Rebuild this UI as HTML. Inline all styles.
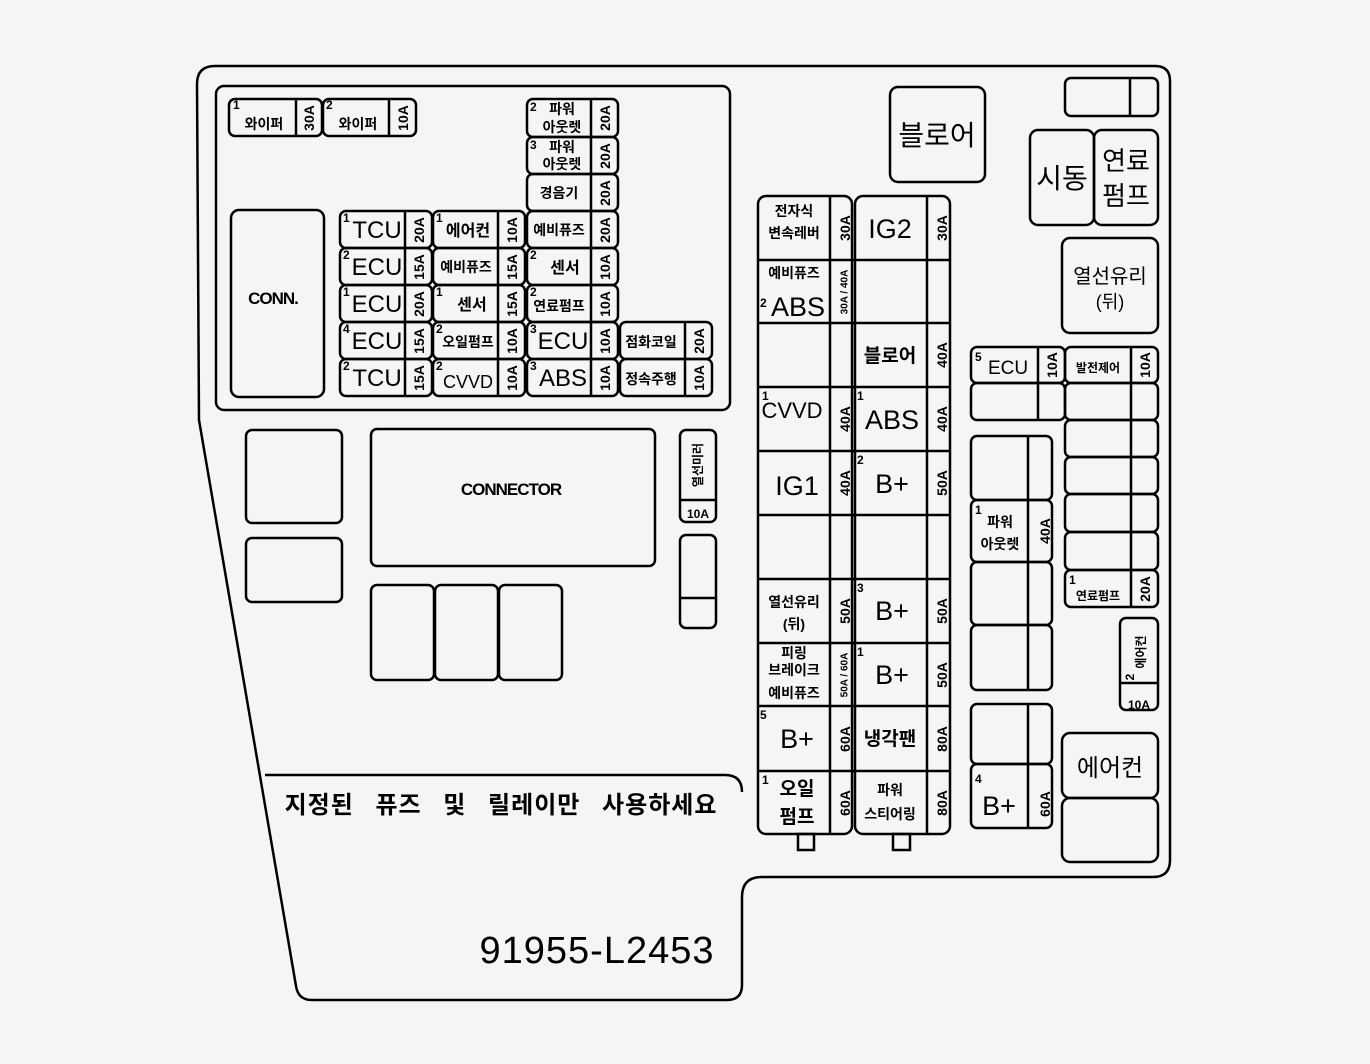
<!DOCTYPE html>
<html><head><meta charset="utf-8"><style>
html,body{margin:0;padding:0;background:#f4f5f4;}
svg{display:block}
text{font-family:"Liberation Sans","Noto Sans CJK KR",sans-serif;fill:#000;}
.k{font-size:14px;font-weight:bold;}
.kb{font-size:16px;font-weight:bold;}
.L{font-size:24px;}
.s{font-size:12px;font-weight:bold;}
.r{font-size:14px;font-weight:bold;}
.rs{font-size:10px;font-weight:bold;}
</style></head><body>
<svg width="1370" height="1064" viewBox="0 0 1370 1064" xmlns="http://www.w3.org/2000/svg">
<g fill="none" stroke="#000" stroke-width="2.5">
<path d="M197,84 Q197,66 215,66 L1155,66 Q1170,66 1170,81 L1170,860 Q1170,877 1153,877 L762,877 Q742,877 742,897 L742,985 Q742,1000 727,1000 L312,1000 Q298,1000 296,986 L199,420 Z"/>
<path d="M265,775 L725,775 Q742,775 742,792"/>
<rect x="216" y="86" width="514" height="324" rx="8"/>
<rect x="231" y="210" width="93" height="187" rx="8"/>
<rect x="246" y="430" width="96" height="93" rx="6"/>
<rect x="246" y="538" width="96" height="64" rx="6"/>
<rect x="371" y="429" width="284" height="137" rx="6"/>
<rect x="371" y="585" width="63" height="95" rx="6"/>
<rect x="435" y="585" width="63" height="95" rx="6"/>
<rect x="499" y="585" width="63" height="95" rx="6"/>
<rect x="680" y="430" width="36" height="92" rx="6"/><line x1="680" y1="500" x2="716" y2="500"/>
<rect x="680" y="535" width="36" height="93" rx="6"/><line x1="680" y1="598" x2="716" y2="598"/>
<rect x="890" y="87" width="95" height="95" rx="8"/>
<rect x="1065" y="78" width="93" height="38" rx="6"/><line x1="1130" y1="78" x2="1130" y2="116"/>
<rect x="1030" y="130" width="64" height="95" rx="8"/>
<rect x="1094" y="130" width="64" height="95" rx="8"/>
<rect x="1062" y="238" width="96" height="95" rx="8"/>
<rect x="229" y="99" width="93" height="37" rx="6"/><line x1="296" y1="99" x2="296" y2="136"/>
<rect x="323" y="99" width="93" height="37" rx="6"/><line x1="389" y1="99" x2="389" y2="136"/>
<rect x="527" y="99" width="91" height="38" rx="6"/>
<rect x="527" y="137" width="91" height="37" rx="6"/>
<rect x="527" y="174" width="91" height="37" rx="6"/>
<rect x="527" y="211" width="91" height="37" rx="6"/>
<rect x="527" y="248" width="91" height="37" rx="6"/>
<rect x="527" y="285" width="91" height="37" rx="6"/>
<rect x="527" y="322" width="91" height="37" rx="6"/>
<rect x="527" y="359" width="91" height="37" rx="6"/>
<line x1="591" y1="99" x2="591" y2="396"/>
<rect x="340" y="211" width="92" height="37" rx="6"/>
<rect x="340" y="248" width="92" height="37" rx="6"/>
<rect x="340" y="285" width="92" height="37" rx="6"/>
<rect x="340" y="322" width="92" height="37" rx="6"/>
<rect x="340" y="359" width="92" height="37" rx="6"/>
<line x1="405" y1="211" x2="405" y2="396"/>
<rect x="433" y="211" width="92" height="37" rx="6"/>
<rect x="433" y="248" width="92" height="37" rx="6"/>
<rect x="433" y="285" width="92" height="37" rx="6"/>
<rect x="433" y="322" width="92" height="37" rx="6"/>
<rect x="433" y="359" width="92" height="37" rx="6"/>
<line x1="498" y1="211" x2="498" y2="396"/>
<rect x="620" y="322" width="92" height="37" rx="6"/>
<rect x="620" y="359" width="92" height="37" rx="6"/>
<line x1="685" y1="322" x2="685" y2="396"/>
<rect x="758" y="196" width="94" height="638" rx="8"/>
<rect x="855" y="196" width="95" height="638" rx="8"/>
<line x1="830" y1="196" x2="830" y2="834"/><line x1="927" y1="196" x2="927" y2="834"/>
<path d="M758,260H950M758,323H950M758,387H950M758,451H950M758,515H950M758,579H950M758,643H950M758,706H950M758,771H950"/>
<rect x="798" y="834" width="16" height="16"/><rect x="893" y="834" width="17" height="16"/>
<rect x="971" y="347" width="94" height="36" rx="6"/><rect x="971" y="383" width="94" height="37" rx="6"/>
<line x1="1038" y1="347" x2="1038" y2="420"/>
<rect x="1065" y="347" width="93" height="36" rx="6"/>
<rect x="1065" y="383" width="93" height="37" rx="6"/>
<rect x="1065" y="420" width="93" height="37" rx="6"/>
<rect x="1065" y="457" width="93" height="37" rx="6"/>
<rect x="1065" y="494" width="93" height="38" rx="6"/>
<rect x="1065" y="532" width="93" height="38" rx="6"/>
<rect x="1065" y="570" width="93" height="37" rx="6"/>
<line x1="1131" y1="347" x2="1131" y2="607"/>
<rect x="971" y="436" width="81" height="64" rx="6"/>
<rect x="971" y="500" width="81" height="62" rx="6"/>
<rect x="971" y="562" width="81" height="63" rx="6"/>
<rect x="971" y="625" width="81" height="65" rx="6"/>
<line x1="1028" y1="436" x2="1028" y2="690"/>
<rect x="971" y="704" width="81" height="60" rx="6"/>
<rect x="971" y="764" width="81" height="64" rx="6"/>
<line x1="1028" y1="704" x2="1028" y2="828"/>
<rect x="1120" y="618" width="38" height="92" rx="6"/><line x1="1120" y1="683" x2="1158" y2="683"/>
<rect x="1062" y="733" width="96" height="65" rx="8"/>
<rect x="1062" y="798" width="96" height="64" rx="8"/>
</g>

<g class="k" text-anchor="middle">
<text x="264" y="129">와이퍼</text><text x="358" y="129">와이퍼</text>
<text x="562" y="114">파워</text><text x="562" y="132">아웃렛</text>
<text x="562" y="152">파워</text><text x="562" y="169">아웃렛</text>
<text x="559" y="198">경음기</text>
<text x="559" y="235">예비퓨즈</text>
<text x="466" y="272">예비퓨즈</text>
<text x="559" y="311">연료펌프</text>
<text x="468" y="347">오일펌프</text>
<text x="651" y="347">점화코일</text>
<text x="651" y="384">정속주행</text>
</g>
<g class="kb" text-anchor="middle">
<text x="468" y="236">에어컨</text>
<text x="565" y="273">센서</text>
<text x="472" y="310">센서</text>
</g>
<g class="s">
<text x="233" y="109">1</text><text x="326" y="109">2</text>
<text x="530" y="111">2</text><text x="530" y="149">3</text>
<text x="343" y="222">1</text><text x="343" y="259">2</text><text x="343" y="296">1</text><text x="343" y="333">4</text><text x="343" y="370">2</text>
<text x="436" y="222">1</text><text x="436" y="296">1</text><text x="436" y="333">2</text><text x="436" y="370">2</text>
<text x="530" y="259">2</text><text x="530" y="296">2</text><text x="530" y="333">3</text><text x="530" y="370">3</text>
</g>
<g class="L" text-anchor="middle">
<text x="377" y="238">TCU</text><text x="377" y="275">ECU</text><text x="377" y="312">ECU</text><text x="377" y="349">ECU</text><text x="377" y="386">TCU</text>
<text x="563" y="349">ECU</text><text x="563" y="386">ABS</text>
</g>
<text x="468" y="388" text-anchor="middle" style="font-size:18px">CVVD</text>
<text x="273" y="304" text-anchor="middle" style="font-size:17px;font-weight:bold;letter-spacing:-1px">CONN.</text>
<text x="511" y="495" text-anchor="middle" style="font-size:17px;font-weight:bold;letter-spacing:-1px">CONNECTOR</text>
<text x="698" y="518" text-anchor="middle" style="font-size:12px;font-weight:bold">10A</text>
<text transform="translate(698,465) rotate(-90)" text-anchor="middle" dominant-baseline="central" class="s">열선미러</text>
<g class="r" text-anchor="middle">
<text transform="translate(309,118) rotate(-90)" dominant-baseline="central">30A</text>
<text transform="translate(403,118) rotate(-90)" dominant-baseline="central">10A</text>
<text transform="translate(605,118) rotate(-90)" dominant-baseline="central">20A</text>
<text transform="translate(605,156) rotate(-90)" dominant-baseline="central">20A</text>
<text transform="translate(605,193) rotate(-90)" dominant-baseline="central">20A</text>
<text transform="translate(605,230) rotate(-90)" dominant-baseline="central">20A</text>
<text transform="translate(605,267) rotate(-90)" dominant-baseline="central">10A</text>
<text transform="translate(605,304) rotate(-90)" dominant-baseline="central">10A</text>
<text transform="translate(605,341) rotate(-90)" dominant-baseline="central">10A</text>
<text transform="translate(605,378) rotate(-90)" dominant-baseline="central">10A</text>
<text transform="translate(419,230) rotate(-90)" dominant-baseline="central">20A</text>
<text transform="translate(419,267) rotate(-90)" dominant-baseline="central">15A</text>
<text transform="translate(419,304) rotate(-90)" dominant-baseline="central">20A</text>
<text transform="translate(419,341) rotate(-90)" dominant-baseline="central">15A</text>
<text transform="translate(419,378) rotate(-90)" dominant-baseline="central">15A</text>
<text transform="translate(512,230) rotate(-90)" dominant-baseline="central">10A</text>
<text transform="translate(512,267) rotate(-90)" dominant-baseline="central">15A</text>
<text transform="translate(512,304) rotate(-90)" dominant-baseline="central">15A</text>
<text transform="translate(512,341) rotate(-90)" dominant-baseline="central">10A</text>
<text transform="translate(512,378) rotate(-90)" dominant-baseline="central">10A</text>
<text transform="translate(699,341) rotate(-90)" dominant-baseline="central">20A</text>
<text transform="translate(699,378) rotate(-90)" dominant-baseline="central">10A</text>
</g>

<g class="k" text-anchor="middle">
<text x="794" y="216">전자식</text><text x="794" y="238">변속레버</text>
<text x="794" y="278">예비퓨즈</text>
<text x="794" y="607">열선유리</text><text x="794" y="629">(뒤)</text>
<text x="794" y="658">피링</text><text x="794" y="675">브레이크</text><text x="794" y="698">예비퓨즈</text>
<text x="890" y="795">파워</text><text x="890" y="819">스티어링</text>
</g>
<g class="kb" text-anchor="middle" style="font-size:19px">
<text x="890" y="362">블로어</text><text x="890" y="745">냉각팬</text>
<text x="797" y="795">오일</text><text x="797" y="823">펌프</text>
</g>
<g class="L" text-anchor="middle" style="font-size:27px">
<text x="890" y="238">IG2</text>
<text x="798" y="316">ABS</text>
<text x="892" y="429">ABS</text>
<text x="797" y="495">IG1</text>
<text x="892" y="493">B+</text>
<text x="892" y="620">B+</text>
<text x="892" y="684">B+</text>
<text x="797" y="748">B+</text>
</g>
<text x="792" y="418" text-anchor="middle" style="font-size:22px">CVVD</text>
<g class="s">
<text x="760" y="307">2</text><text x="762" y="400">1</text><text x="857" y="400">1</text><text x="857" y="464">2</text>
<text x="857" y="592">3</text><text x="857" y="656">1</text><text x="760" y="719">5</text><text x="762" y="784">1</text>
</g>
<g class="r" text-anchor="middle">
<text transform="translate(845,228) rotate(-90)" dominant-baseline="central">30A</text>
<text transform="translate(942,228) rotate(-90)" dominant-baseline="central">30A</text>
<text transform="translate(845,292) rotate(-90)" dominant-baseline="central" class="rs">30A / 40A</text>
<text transform="translate(942,355) rotate(-90)" dominant-baseline="central">40A</text>
<text transform="translate(845,419) rotate(-90)" dominant-baseline="central">40A</text>
<text transform="translate(942,419) rotate(-90)" dominant-baseline="central">40A</text>
<text transform="translate(845,483) rotate(-90)" dominant-baseline="central">40A</text>
<text transform="translate(942,483) rotate(-90)" dominant-baseline="central">50A</text>
<text transform="translate(845,611) rotate(-90)" dominant-baseline="central">50A</text>
<text transform="translate(942,611) rotate(-90)" dominant-baseline="central">50A</text>
<text transform="translate(845,675) rotate(-90)" dominant-baseline="central" class="rs">50A / 60A</text>
<text transform="translate(942,675) rotate(-90)" dominant-baseline="central">50A</text>
<text transform="translate(845,739) rotate(-90)" dominant-baseline="central">60A</text>
<text transform="translate(942,739) rotate(-90)" dominant-baseline="central">80A</text>
<text transform="translate(845,803) rotate(-90)" dominant-baseline="central">60A</text>
<text transform="translate(942,803) rotate(-90)" dominant-baseline="central">80A</text>
</g>

<text x="937" y="145" text-anchor="middle" style="font-size:28px">블로어</text>
<text x="1062" y="188" text-anchor="middle" style="font-size:28px">시동</text>
<text x="1126" y="170" text-anchor="middle" style="font-size:26px">연료</text>
<text x="1126" y="205" text-anchor="middle" style="font-size:26px">펌프</text>
<text x="1110" y="283" text-anchor="middle" style="font-size:20px">열선유리</text>
<text x="1110" y="308" text-anchor="middle" style="font-size:18px">(뒤)</text>
<text x="1110" y="776" text-anchor="middle" style="font-size:24px">에어컨</text>
<text x="1008" y="374" text-anchor="middle" style="font-size:19px">ECU</text>
<text x="975" y="361" class="s">5</text>
<text x="1098" y="372" text-anchor="middle" class="k" style="font-size:12px">발전제어</text>
<text x="1000" y="527" text-anchor="middle" class="k">파워</text>
<text x="1000" y="549" text-anchor="middle" class="k">아웃렛</text>
<text x="975" y="514" class="s">1</text>
<text x="1098" y="600" text-anchor="middle" class="k" style="font-size:12px">연료펌프</text>
<text x="1069" y="584" class="s">1</text>
<text x="999" y="815" text-anchor="middle" class="L" style="font-size:27px">B+</text>
<text x="975" y="783" class="s">4</text>
<text x="1139" y="709" text-anchor="middle" class="s">10A</text>
<text transform="translate(1141,652) rotate(-90)" text-anchor="middle" dominant-baseline="central" class="s">에어컨</text>
<text transform="translate(1130,677) rotate(-90)" text-anchor="middle" dominant-baseline="central" class="s">2</text>
<g class="r" text-anchor="middle">
<text transform="translate(1052,365) rotate(-90)" dominant-baseline="central">10A</text>
<text transform="translate(1145,365) rotate(-90)" dominant-baseline="central">10A</text>
<text transform="translate(1045,531) rotate(-90)" dominant-baseline="central">40A</text>
<text transform="translate(1145,589) rotate(-90)" dominant-baseline="central">20A</text>
<text transform="translate(1045,804) rotate(-90)" dominant-baseline="central">60A</text>
</g>

<text x="501" y="813" text-anchor="middle" style="font-size:24px;font-weight:bold;letter-spacing:1px;word-spacing:14px">지정된 퓨즈 및 릴레이만 사용하세요</text>
<text x="597" y="963" text-anchor="middle" style="font-size:38px;letter-spacing:1px">91955-L2453</text>
</svg>
</body></html>
